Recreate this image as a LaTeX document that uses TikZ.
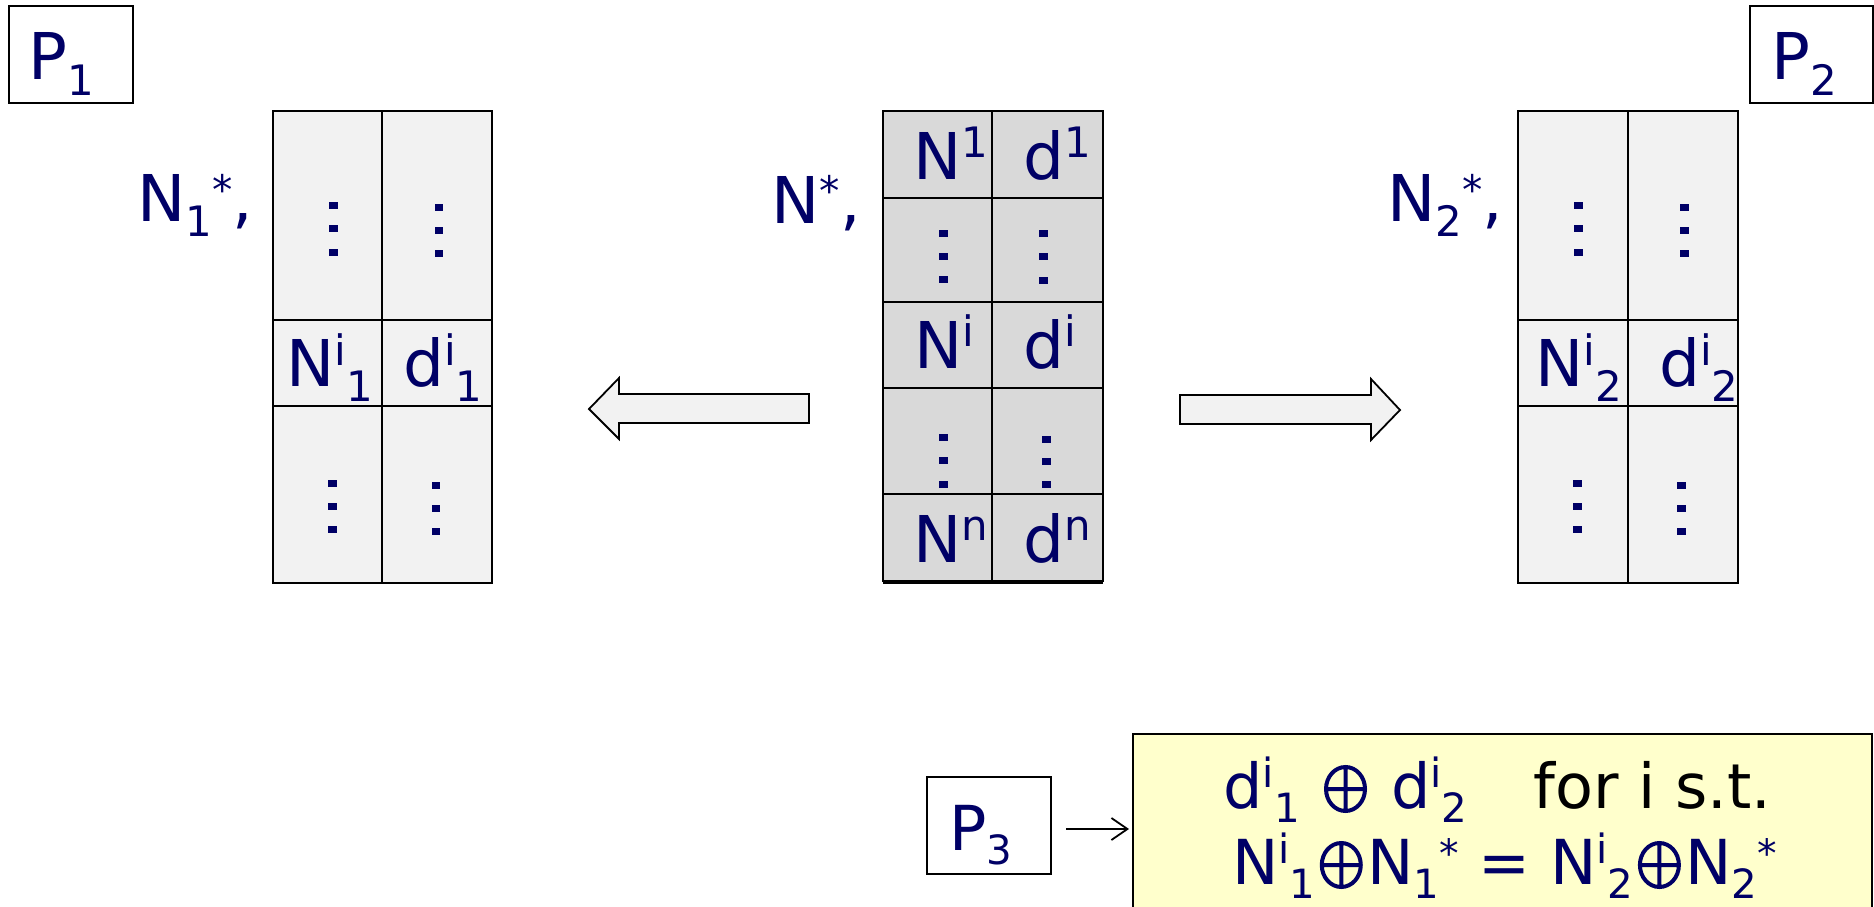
\documentclass[tikz,border=0pt]{standalone}
\usepackage{fontspec}
\setmainfont{DejaVu Sans}
\usepackage{graphicx}
\usetikzlibrary{arrows.meta}

\definecolor{navy}{RGB}{0,0,102}
\definecolor{paleGrey}{RGB}{242,242,242}
\definecolor{midGrey}{RGB}{217,217,217}
\definecolor{paleYellow}{RGB}{255,255,204}

% raised / lowered small indices, set one after the other
\newcommand\supx[1]{\raisebox{0.33em}{\scalebox{0.65}{#1}}}
\newcommand\subx[1]{\raisebox{-0.24em}{\scalebox{0.65}{#1}}}
% small raised star
\newcommand\astx{\raisebox{0.27em}{\scalebox{0.63}{*}}}
% circled plus drawn as a thin-stroked ring with a cross
\newcommand\oplx{\hspace{4.5pt}\tikz[baseline=0pt, x=1pt, y=1pt]{%
  \draw[navy, line width=4pt] (0,19) ellipse[x radius=19.5, y radius=22]
    (-19.5,19) -- (19.5,19) (0,-3) -- (0,41);}\hspace{4.5pt}}
\newcommand\fsz[1]{\fontsize{#1}{#1}\selectfont}

% a table cell given by its corners
\newcommand\cellbox[6]{%
  \node[cell, fill=#6, minimum width={(#4-#2)*1pt}, minimum height={(#5-#3)*1pt}]
    (#1) at ({(#2+#4)/2},{(#3+#5)/2}) {};}
% a vertical ellipsis of three square dots
\newcommand\dotcol[5]{%
  \foreach \k in {0,1,2}{\fill[navy] ({#1-#4/2},{#2+\k*#3-#5/2}) rectangle ++(#4,#5);}}

\tikzset{
  cell/.style={draw=black, line width=2pt, inner sep=0pt, outer sep=0pt},
  pbox/.style={draw=black, line width=2pt, fill=white, inner sep=0pt, outer sep=0pt},
  txt/.style={anchor=base, inner sep=0pt, text=navy, font=\fsz{64.5}},
  blockarrow/.style={draw=black, line width=1.8pt, fill=paleGrey, line join=miter},
  thinarrow/.style={draw=black, line width=1.8pt, -{Straight Barb[length=16pt,width=22pt,line width=1.8pt]}},
}

\begin{document}
\begin{tikzpicture}[x=1pt, y=-1pt]
\useasboundingbox (0,0) rectangle (1874,907);

% ---- process labels
\node[pbox, minimum width=124pt, minimum height=97pt] (P1) at (71,54.5) {};
\node[txt] (P1t) at (61.5,79.6) {P\subx{1}};
\node[pbox, minimum width=123pt, minimum height=97pt] (P2) at (1811.5,54.5) {};
\node[txt] (P2t) at (1804,79.6) {P\subx{2}};

% ---- left table (N1*)
\cellbox{La1}{273}{111}{382}{320}{paleGrey}
\cellbox{Lb1}{382}{111}{492}{320}{paleGrey}
\cellbox{La2}{273}{320}{382}{406}{paleGrey}
\cellbox{Lb2}{382}{320}{492}{406}{paleGrey}
\cellbox{La3}{273}{406}{382}{583}{paleGrey}
\cellbox{Lb3}{382}{406}{492}{583}{paleGrey}
\dotcol{333.5}{205}{23.5}{8.5}{7}
\dotcol{439}{207}{23}{8.5}{7}
\dotcol{332.5}{483.7}{23}{8.5}{7}
\dotcol{436}{485}{23.4}{8.5}{7}
\node[txt] (Lt1) at (329.5,386.5) {N\supx{i}\subx{1}};
\node[txt] (Lt2) at (443,386.5) {d\supx{i}\subx{1}};
\node[txt] (Llab) at (195,221.5) {N\subx{1}\astx,};

% ---- centre table (N*)
\cellbox{Ca1}{883}{111}{992}{198}{midGrey}
\cellbox{Cb1}{992}{111}{1103}{198}{midGrey}
\cellbox{Ca2}{883}{198}{992}{302}{midGrey}
\cellbox{Cb2}{992}{198}{1103}{302}{midGrey}
\cellbox{Ca3}{883}{302}{992}{388}{midGrey}
\cellbox{Cb3}{992}{302}{1103}{388}{midGrey}
\cellbox{Ca4}{883}{388}{992}{494}{midGrey}
\cellbox{Cb4}{992}{388}{1103}{494}{midGrey}
\cellbox{Ca5}{883}{494}{992}{581}{midGrey}
\cellbox{Cb5}{992}{494}{1103}{581}{midGrey}
\draw[line width=2pt] ([yshift=-2pt]Ca5.south west) -- ([yshift=-2pt]Cb5.south east);
\dotcol{943.7}{233}{23}{9}{7}
\dotcol{1043}{233.7}{23.2}{9}{7}
\dotcol{943}{437}{23.5}{9}{7}
\dotcol{1046}{439}{22.5}{9}{7}
\node[txt] (Ct1) at (950.5,179) {N\supx{1}};
\node[txt] (Cd1) at (1057,179) {d\supx{1}};
\node[txt] (Ct3) at (944,368) {N\supx{i}};
\node[txt] (Cd3) at (1050,368) {d\supx{i}};
\node[txt] (Ct5) at (951,562) {N\supx{n}};
\node[txt] (Cd5) at (1057,562) {d\supx{n}};
\node[txt] (Clab) at (816,223) {N\astx,};

% ---- right table (N2*)
\cellbox{Ra1}{1518}{111}{1628}{320}{paleGrey}
\cellbox{Rb1}{1628}{111}{1738}{320}{paleGrey}
\cellbox{Ra2}{1518}{320}{1628}{406}{paleGrey}
\cellbox{Rb2}{1628}{320}{1738}{406}{paleGrey}
\cellbox{Ra3}{1518}{406}{1628}{583}{paleGrey}
\cellbox{Rb3}{1628}{406}{1738}{583}{paleGrey}
\dotcol{1578.5}{205}{23.5}{8.5}{7}
\dotcol{1684.5}{207}{23}{8.5}{7}
\dotcol{1577.5}{483.7}{23}{8.5}{7}
\dotcol{1681.7}{485}{23.4}{8.5}{7}
\node[txt] (Rt1) at (1579,386.5) {N\supx{i}\subx{2}};
\node[txt] (Rt2) at (1699,386.5) {d\supx{i}\subx{2}};
\node[txt] (Rlab) at (1445,221.5) {N\subx{2}\astx,};

% ---- split arrows
\draw[blockarrow] (809,394) -- (619,394) -- (619,378) -- (589,409) -- (619,439)
  -- (619,423) -- (809,423) -- cycle;
\draw[blockarrow] (1180,395) -- (1371,395) -- (1371,379) -- (1400,410) -- (1371,440)
  -- (1371,424) -- (1180,424) -- cycle;

% ---- third process and its result
\node[pbox, minimum width=124pt, minimum height=97pt] (P3) at (989,825.5) {};
\node[txt, font=\fsz{62}] (P3t) at (981,850) {P\subx{3}};
\node[draw=black, line width=2pt, fill=paleYellow, inner sep=0pt, outer sep=0pt,
      minimum width=739pt, minimum height=200pt] (Y) at (1502.5,834) {};
\node[txt, font=\fsz{62}] (Y1a) at (1345.5,808) {d\supx{i}\subx{1} \oplx{} d\supx{i}\subx{2}};
\node[txt, font=\fsz{62}, text=black] (Y1b) at (1652.5,808) {for i s.t.};
\node[txt, font=\fsz{62}] (Y2) at (1504.5,884)
  {N\supx{i}\subx{1}\oplx{}N\subx{1}\astx{} = N\supx{i}\subx{2}\oplx{}N\subx{2}\astx};
\draw[thinarrow, shorten >=4pt] ([xshift=15pt,yshift=-3.5pt]P3.east) -- ([yshift=-3.5pt]P3.east -| Y.west);
\end{tikzpicture}
\end{document}
